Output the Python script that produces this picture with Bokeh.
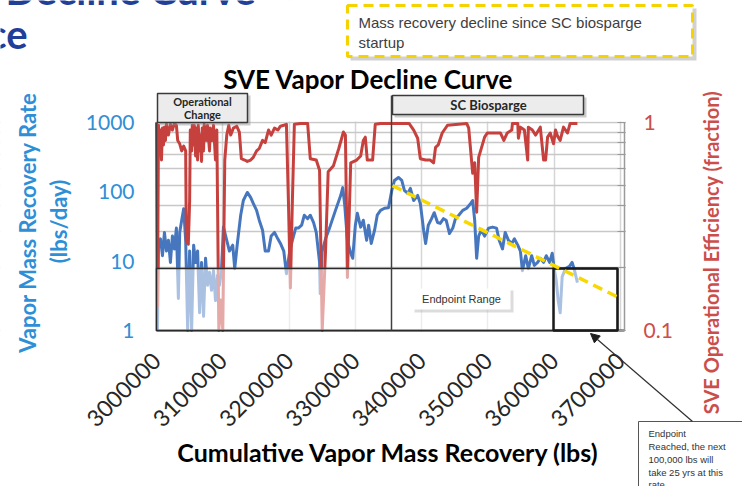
import math
from bokeh.plotting import figure
from bokeh.models import (Range1d, LogScale, LogAxis, FixedTicker, NumeralTickFormatter,
                          Grid, BoxAnnotation, Label, Arrow, NormalHead)
from bokeh.embed import file_html
from bokeh.resources import INLINE

# ---------------- data ----------------
cum_rate_klbs = [3001.5, 3003, 3006, 3009, 3012, 3015, 3018, 3021, 3024, 3027,
                 3030, 3033, 3035, 3038, 3041, 3044, 3047, 3050, 3053, 3056,
                 3059, 3062, 3065, 3068, 3071, 3074, 3077, 3080, 3083, 3086,
                 3089, 3092, 3095, 3098, 3101, 3106, 3110, 3115, 3118, 3122,
                 3127, 3131, 3137, 3142, 3146, 3151, 3155, 3160, 3164, 3169,
                 3173, 3178, 3183, 3187, 3192, 3196, 3201, 3205, 3210, 3214,
                 3219, 3223, 3228, 3232, 3237, 3241, 3246, 3247, 3250, 3255,
                 3262, 3270, 3278, 3281, 3284, 3288, 3293, 3296, 3300, 3303,
                 3308, 3312, 3317, 3320, 3324, 3329, 3333, 3338, 3344, 3350,
                 3355, 3359, 3365, 3370, 3374, 3379, 3383, 3388, 3394, 3398,
                 3403, 3406, 3410, 3415, 3419, 3424, 3428, 3433, 3437, 3442,
                 3447, 3451, 3456, 3462, 3468, 3474, 3477, 3480, 3483, 3486,
                 3490, 3495, 3501, 3507, 3513, 3517, 3522, 3526, 3531, 3536,
                 3540, 3545, 3549, 3552, 3557, 3561, 3566, 3570, 3575, 3579,
                 3584, 3588, 3593, 3597, 3600, 3603, 3606, 3609, 3612, 3617,
                 3623, 3627, 3630, 3635]
rate_lbs_per_day = [1.0, 16.8, 21, 12, 26, 14, 20, 9.6, 23, 15,
                    30, 2.9, 26, 39, 57, 20, 1.0, 14, 1.0, 17,
                    9.6, 14, 1.8, 9.6, 1.6, 11, 4.5, 6.9, 3.8, 7.3,
                    2.7, 6.2, 4.5, 7.3, 31, 20, 14, 17, 7.8, 18,
                    46, 75, 98, 83, 68, 54, 39, 28, 14, 14,
                    23, 26, 21, 18, 14, 6.6, 14, 20, 30, 30,
                    33, 46, 41, 46, 36, 26, 9.6, 3.4, 14, 21,
                    32, 54, 89, 115, 64, 20, 13, 11, 33, 49,
                    31, 39, 20, 33, 18, 28, 46, 54, 58, 59,
                    105, 146, 161, 146, 105, 95, 112, 75, 89, 68,
                    28, 18, 33, 41, 50, 36, 35, 41, 39, 25,
                    30, 41, 46, 54, 58, 68, 75, 39, 11, 23,
                    28, 23, 30, 31, 30, 20, 15, 26, 20, 18,
                    21, 17, 14, 7.3, 12, 7.8, 12, 8.7, 9.6, 11,
                    9.6, 12, 9.6, 13, 7.8, 5.3, 2.7, 1.8, 6.0, 7.8,
                    8.4, 9.6, 7.8, 4.9]

cum_eff_klbs = [3000, 3001.5, 3003, 3004.5, 3006, 3007.5, 3009, 3010.5, 3012, 3013.5,
                3015, 3018, 3021, 3024, 3027, 3030, 3032, 3035, 3038, 3041,
                3044, 3045, 3048, 3050, 3051, 3053, 3054, 3056, 3057, 3059,
                3060, 3062, 3063, 3065, 3066, 3068, 3069, 3071, 3072, 3075,
                3077, 3080, 3081, 3084, 3086, 3089, 3091, 3094, 3097, 3100,
                3103, 3106, 3109, 3112, 3116, 3121, 3125, 3128, 3133, 3137,
                3142, 3146, 3151, 3155, 3160, 3164, 3169, 3173, 3178, 3183,
                3187, 3192, 3196, 3199, 3202, 3205, 3208, 3217, 3228, 3232,
                3241, 3246, 3250, 3255, 3259, 3267, 3275, 3282, 3285, 3288,
                3293, 3302, 3308, 3312, 3315, 3318, 3326, 3330, 3338, 3357,
                3381, 3388, 3394, 3398, 3406, 3413, 3418, 3421, 3425, 3431,
                3439, 3468, 3471, 3474, 3477, 3480, 3483, 3486, 3495, 3499,
                3519, 3524, 3529, 3536, 3537, 3545, 3546, 3549, 3555, 3560,
                3561, 3567, 3572, 3579, 3584, 3587, 3590, 3594, 3599, 3602,
                3605, 3609, 3614, 3620, 3624, 3635]
efficiency = [1.0, 0.13, 0.97, 0.73, 0.92, 0.66, 0.94, 0.78, 0.95, 0.82,
              0.98, 0.87, 0.98, 0.92, 0.99, 0.97, 0.82, 0.79, 0.73, 0.77,
              0.73, 0.27, 0.26, 0.42, 0.92, 0.73, 0.97, 0.78, 0.97, 0.69,
              0.94, 0.66, 0.97, 0.73, 0.87, 0.65, 0.94, 0.73, 0.98, 0.82,
              0.97, 0.73, 0.94, 0.82, 0.97, 0.66, 0.92, 0.1, 0.14, 0.1,
              0.66, 0.87, 0.97, 0.87, 0.94, 0.96, 0.90, 0.67, 0.66, 0.65,
              0.66, 0.68, 0.73, 0.75, 0.82, 0.80, 0.92, 0.87, 0.94, 0.92,
              0.96, 0.97, 0.98, 0.42, 0.16, 0.42, 0.98, 0.99, 0.99, 0.67,
              0.66, 0.59, 0.1, 0.24, 0.58, 0.62, 0.75, 0.90, 0.87, 0.18,
              0.64, 0.66, 0.69, 0.82, 0.85, 0.66, 0.66, 0.98, 0.99, 0.99,
              0.99, 0.92, 0.84, 0.67, 0.66, 0.66, 0.64, 0.76, 0.78, 0.89,
              0.97, 0.99, 0.94, 0.73, 0.57, 0.64, 0.37, 0.68, 0.85, 0.89,
              0.89, 0.82, 0.89, 0.92, 0.99, 0.99, 0.84, 0.95, 0.92, 0.66,
              0.95, 0.92, 0.87, 0.95, 0.66, 0.66, 0.85, 0.89, 0.79, 0.92,
              0.86, 0.82, 0.95, 0.89, 0.99, 0.99]

trend_klbs = [3356, 3700]
trend_rate = [123, 2.9]

x_ticks = [3000000, 3100000, 3200000, 3300000, 3400000, 3500000, 3600000, 3700000]
rate_ticks = [1, 10, 100, 1000]
eff_ticks = [0.1, 1]
eff_minor_ticks = [0.2, 0.3, 0.4, 0.5, 0.6, 0.7, 0.8, 0.9]

cum_rate = [v * 1000 for v in cum_rate_klbs]
cum_eff = [v * 1000 for v in cum_eff_klbs]
trend_x = [v * 1000 for v in trend_klbs]

# ---------------- layout (frame = whole canvas) ----------------
W, H = 742, 486
PX_L, PX_R, PX_T, PX_B = 156, 624, 122, 330      # plot area in page pixels
X0 = 3000000
PPX = 464 / 700000                               # pixels per lb
PPD = (PX_B - PX_T) / 3                           # pixels per decade (rate)
PPE = (PX_B - PX_T) / 1                           # pixels per decade (efficiency)


def dx(X):
    return X0 + (X - PX_L) / PPX


def dy(Y):
    return 10 ** (3 - (Y - PX_T) / PPD)


def de(Y):
    return 10 ** (0 - (Y - PX_T) / PPE)


p = figure(width=W, height=H, x_range=Range1d(dx(0), dx(W)), y_range=Range1d(dy(H), dy(0)),
           y_axis_type="log", output_backend="svg", toolbar_location=None, title=None,
           min_border_left=0, min_border_right=0, min_border_top=0, min_border_bottom=0)
p.outline_line_color = None
p.background_fill_color = "white"
p.border_fill_color = "white"
p.extra_y_ranges = {"eff": Range1d(de(H), de(0))}
p.extra_y_scales = {"eff": LogScale()}

BLUE_T = "#2F8FD6"
RED_T = "#CC4E4B"

ya = p.yaxis[0]
ya.fixed_location = X0
ya.bounds = (1, 1000)
ya.ticker = FixedTicker(ticks=rate_ticks)
ya.formatter = NumeralTickFormatter(format="0")
ya.major_label_text_font = "Lato"
ya.major_label_text_font_size = "21px"
ya.major_label_text_color = BLUE_T
ya.axis_line_color = "#404040"
ya.axis_line_width = 1.5
ya.major_tick_line_color = None
ya.minor_tick_line_color = None
ya.major_tick_out = 0
ya.major_label_standoff = 22

xa = p.xaxis[0]
xa.fixed_location = 1
xa.bounds = (X0, dx(PX_R))
xa.ticker = FixedTicker(ticks=x_ticks)
xa.formatter = NumeralTickFormatter(format="0")
xa.major_label_orientation = math.pi / 4
xa.major_label_text_font = "Lato"
xa.major_label_text_font_size = "23px"
xa.major_label_text_color = "#262626"
xa.axis_line_color = "#404040"
xa.axis_line_width = 2
xa.major_tick_line_color = None
xa.minor_tick_line_color = None
xa.major_tick_out = 0
xa.major_label_standoff = 26

ra = LogAxis(y_range_name="eff", fixed_location=dx(PX_R), bounds=(0.1, 1),
             ticker=FixedTicker(ticks=eff_ticks, minor_ticks=eff_minor_ticks),
             formatter=NumeralTickFormatter(format="0.[0]"))
ra.major_label_text_font = "Lato"
ra.major_label_text_font_size = "21px"
ra.major_label_text_color = RED_T
ra.axis_line_color = "#9A9A9A"
ra.axis_line_width = 1.5
ra.major_tick_line_color = "#9A9A9A"
ra.minor_tick_line_color = "#9A9A9A"
ra.major_tick_in = 7
ra.major_tick_out = 1
ra.minor_tick_in = 7
ra.minor_tick_out = 1
ra.major_label_standoff = 18
p.add_layout(ra, "right")

p.ygrid.visible = False
p.xgrid.grid_line_color = "#D6D6D6"
p.xgrid.grid_line_width = 1.5
eg = Grid(dimension=1, y_range_name="eff",
          ticker=FixedTicker(ticks=eff_ticks, minor_ticks=eff_minor_ticks),
          grid_line_color="#C8C8C8", grid_line_width=1.5,
          minor_grid_line_color="#C8C8C8", minor_grid_line_width=1.5)
p.add_layout(eg)


def box(l, r, t, b, **kw):
    kw.setdefault("line_alpha", 1)
    kw.setdefault("fill_alpha", 1)
    p.add_layout(BoxAnnotation(left=dx(l), right=dx(r), top=dy(t), bottom=dy(b), **kw))


def lab(X, Y, text, **kw):
    kw.setdefault("text_align", "center")
    kw.setdefault("text_baseline", "middle")
    p.add_layout(Label(x=dx(X), y=dy(Y), text=text, **kw))


# keep grid lines inside the plot area
for l, r, t, b in [(-5, PX_L - 1, -5, H + 5), (PX_R + 1, W + 5, -5, H + 5),
                   (-5, W + 5, -5, PX_T - 1), (-5, W + 5, PX_B + 1, H + 5)]:
    box(l, r, t, b, fill_color="white", line_color=None, level="underlay")

# ---------------- series ----------------
p.line(cum_rate, rate_lbs_per_day, line_color="#4677BE", line_width=3, line_join="round")
p.line(cum_eff, efficiency, y_range_name="eff", line_color="#C6413E", line_width=3,
       line_join="round")
p.line(trend_x, trend_rate, line_color="#F7D800", line_width=3.5, line_dash="10 6",
       level="overlay")

# ---------------- annotations ----------------
# endpoint range band (semi-transparent)
box(156, 617, 268, 330, fill_color="white", fill_alpha=0.55, line_color="#2A2A2A", line_width=1.5)
box(553, 617, 268, 330, fill_color=None, line_color="#1A1A1A", line_width=2.5)

# SC biosparge divider
p.add_layout(Arrow(end=None, x_start=dx(391), y_start=dy(95), x_end=dx(391), y_end=dy(330),
                   line_color="#404040", line_width=1.5))

# Operational change box
box(159, 250, 95, 125, fill_color="#8C8C8C", fill_alpha=0.45, line_color=None)
box(157, 247, 93, 122, fill_color="#ECECEC", line_color="#3A3A3A", line_width=1.5)
lab(202, 101, "Operational", text_font="Lato", text_font_style="bold", text_font_size="11px",
    text_color="#262626")
lab(202, 114, "Change", text_font="Lato", text_font_style="bold", text_font_size="11px",
    text_color="#262626")

# SC Biosparge box
box(394, 586, 97, 117, fill_color="#8C8C8C", fill_alpha=0.45, line_color=None)
box(392, 583, 95, 114, fill_color="#ECECEC", line_color="#3A3A3A", line_width=1.5)
lab(488, 104, "SC Biosparge", text_font="Lato", text_font_style="bold", text_font_size="13px",
    text_color="#262626")

# Endpoint Range label
box(414, 513, 290, 312, fill_color="#9A9A9A", fill_alpha=0.35, line_color=None)
box(412, 510, 288, 309, fill_color="white", line_color=None)
lab(461, 298, "Endpoint Range", text_font="Liberation Sans", text_font_size="11px",
    text_color="#333333")

# yellow callout
box(350, 696, 8, 60, fill_color="#9A9A9A", fill_alpha=0.45, line_color=None)
box(347, 692, 5, 56, fill_color="white", line_color="#F5D300", line_width=3, line_dash="10 6")
lab(358, 22, "Mass recovery decline since SC biosparge", text_align="left",
    text_font="Liberation Sans", text_font_size="15px", text_color="#404040")
lab(358, 42, "startup", text_align="left",
    text_font="Liberation Sans", text_font_size="15px", text_color="#404040")

# bottom-right callout
box(638, 760, 421, 520, fill_color="white", line_color="#555555", line_width=1)
for yy, t in zip([433, 446, 459, 472, 484],
                 ["Endpoint", "Reached, the next", "100,000 lbs will", "take 25 yrs at this", "rate."]):
    lab(648, yy, t, text_align="left", text_font="Liberation Sans", text_font_size="9.5px",
        text_color="#333333")
p.add_layout(Arrow(end=NormalHead(size=9, fill_color="#202020", line_color="#202020"),
                   x_start=dx(692), y_start=dy(421), x_end=dx(590), y_end=dy(333),
                   line_color="#303030", line_width=1.2))

# titles
lab(368, 78, "SVE Vapor Decline Curve", text_font="Lato", text_font_style="bold",
    text_font_size="26px", text_color="#000000")
lab(388, 451, "Cumulative Vapor Mass Recovery (lbs)", text_font="Lato", text_font_style="bold",
    text_font_size="25px", text_color="#000000")
lab(27, 222, "Vapor Mass Recovery Rate", angle=math.pi / 2, text_font="Lato",
    text_font_style="bold", text_font_size="22px", text_color=BLUE_T)
lab(58, 221, "(lbs/day)", angle=math.pi / 2, text_font="Lato",
    text_font_style="bold", text_font_size="22px", text_color=BLUE_T)
lab(710, 252, "SVE Operational Efficiency (fraction)", angle=math.pi / 2, text_font="Lato",
    text_font_style="bold", text_font_size="20px", text_color=RED_T)
lab(27, 33, "ce", text_align="right", text_font="Lato",
    text_font_style="bold", text_font_size="40px", text_color="#1F3F99")
lab(255, -11, "Decline Curve", text_align="right", text_font="Lato",
    text_font_style="bold", text_font_size="40px", text_color="#1F3F99")

open("out.html", "w").write(file_html(p, INLINE))
